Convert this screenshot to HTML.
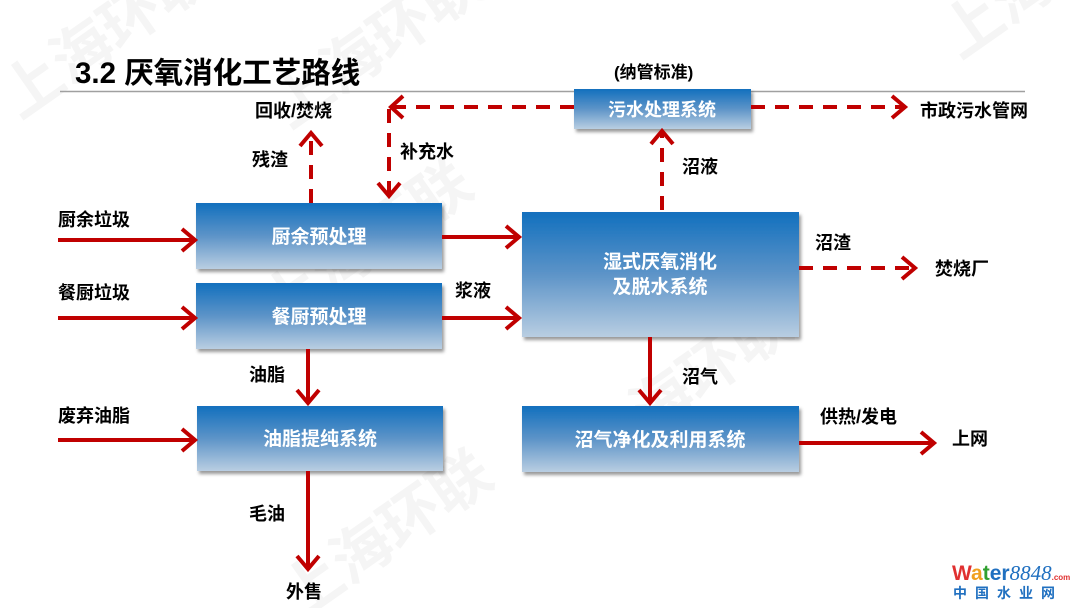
<!DOCTYPE html>
<html><head><meta charset="utf-8"><style>
body{margin:0;background:#fff}
svg{display:block}
text{font-family:"Liberation Sans","Noto Sans CJK SC",sans-serif;font-weight:bold}
</style></head><body>
<svg width="1080" height="608" viewBox="0 0 1080 608" xmlns="http://www.w3.org/2000/svg">
<defs>
<linearGradient id="g" x1="0" y1="0" x2="0" y2="1">
<stop offset="0" stop-color="#1270be"/>
<stop offset="0.5" stop-color="#5d94c8"/>
<stop offset="1" stop-color="#b9cee2"/>
</linearGradient>
<filter id="sh" x="-5%" y="-5%" width="115%" height="125%"><feDropShadow dx="2" dy="3" stdDeviation="1.5" flood-color="#000" flood-opacity="0.4"/></filter>
</defs>
<g font-size="60" fill="#f5f5f5" font-weight="normal">
<text transform="translate(20,120) rotate(-35)">上海环联</text>
<text transform="translate(280,330) rotate(-35)">上海环联</text>
<text transform="translate(300,620) rotate(-35)">上海环联</text>
<text transform="translate(600,470) rotate(-35)">上海环联</text>
<text transform="translate(960,60) rotate(-35)">上海环联</text>
<text transform="translate(290,130) rotate(-35)">上海环联</text>
</g>
<text x="75" y="83" font-size="29.5" fill="#000">3.2 厌氧消化工艺路线</text>
<line x1="60" y1="91.5" x2="1025" y2="91.5" stroke="#a0a0a0" stroke-width="1.5"/>

<g filter="url(#sh)" fill="url(#g)">
<rect x="196" y="203" width="246" height="66"/>
<rect x="196" y="283" width="246" height="66"/>
<rect x="197" y="406" width="246" height="65"/>
<rect x="522" y="212" width="277" height="125"/>
<rect x="522" y="406" width="277" height="66"/>
<rect x="574" y="89" width="177" height="40"/>
</g>
<g fill="#fff" font-size="19" text-anchor="middle">
<text x="319" y="243">厨余预处理</text>
<text x="319" y="323">餐厨预处理</text>
<text x="320" y="445">油脂提纯系统</text>
<text x="660" y="268">湿式厌氧消化</text>
<text x="660" y="293">及脱水系统</text>
<text x="660" y="446">沼气净化及利用系统</text>
<text x="662" y="116" font-size="18">污水处理系统</text>
</g>

<g stroke="#c00000" stroke-width="4" fill="none">
<line x1="58" y1="240" x2="194" y2="240"/><polyline points="182,229 195,240 182,251"/>
<line x1="58" y1="318" x2="194" y2="318"/><polyline points="182,307 195,318 182,329"/>
<line x1="58" y1="440" x2="194" y2="440"/><polyline points="182,429 195,440 182,451"/>
<line x1="442" y1="237" x2="518" y2="237"/><polyline points="506,226 519,237 506,248"/>
<line x1="442" y1="318" x2="518" y2="318"/><polyline points="506,307 519,318 506,329"/>
<line x1="308" y1="349" x2="308" y2="402"/><polyline points="297,390 308,403 319,390"/>
<line x1="308" y1="471" x2="308" y2="568"/><polyline points="297,556 308,569 319,556"/>
<line x1="650" y1="337" x2="650" y2="402"/><polyline points="639,390 650,403 661,390"/>
<line x1="799" y1="443" x2="933" y2="443"/><polyline points="921,432 934,443 921,454"/>
<g stroke-dasharray="14,10">
<line x1="799" y1="268" x2="912" y2="268"/>
<line x1="662" y1="210" x2="662" y2="133"/>
<line x1="574" y1="107" x2="394" y2="107"/>
<line x1="389" y1="109" x2="389" y2="194"/>
<line x1="751" y1="107" x2="902" y2="107"/>
<line x1="311" y1="203" x2="311" y2="135"/>
</g>
<polyline points="902,257 915,268 902,279"/>
<polyline points="651,144 662,131 673,144"/>
<polyline points="403,96 391,107 403,118"/>
<polyline points="378,183 389,196 400,183"/>
<polyline points="892,96 905,107 892,118"/>
<polyline points="300,146 311,133 322,146"/>
</g>

<g font-size="18" fill="#000">
<text x="614" y="78" font-size="17">(纳管标准)</text>
<text x="255" y="117">回收/焚烧</text>
<text x="252" y="166">残渣</text>
<text x="400" y="158">补充水</text>
<text x="682" y="173">沼液</text>
<text x="920" y="117">市政污水管网</text>
<text x="815" y="249">沼渣</text>
<text x="935" y="275">焚烧厂</text>
<text x="455" y="297">浆液</text>
<text x="682" y="383">沼气</text>
<text x="820" y="423">供热/发电</text>
<text x="952" y="445">上网</text>
<text x="58" y="226">厨余垃圾</text>
<text x="58" y="299">餐厨垃圾</text>
<text x="58" y="422">废弃油脂</text>
<text x="249" y="381">油脂</text>
<text x="249" y="520">毛油</text>
<text x="286" y="598">外售</text>
</g>

<text x="952" y="580" font-size="21" fill="#e03030" font-weight="bold">W<tspan fill="#f0a020">a</tspan><tspan fill="#30a030">t</tspan><tspan fill="#2070c0">er</tspan><tspan fill="#2070c0" font-style="italic" font-weight="normal" font-family="Liberation Serif">8848</tspan><tspan font-size="8" fill="#e03030">.com</tspan></text>
<text x="953" y="598" font-size="14" fill="#2070c0" letter-spacing="8">中国水业网</text>
</svg>
</body></html>
